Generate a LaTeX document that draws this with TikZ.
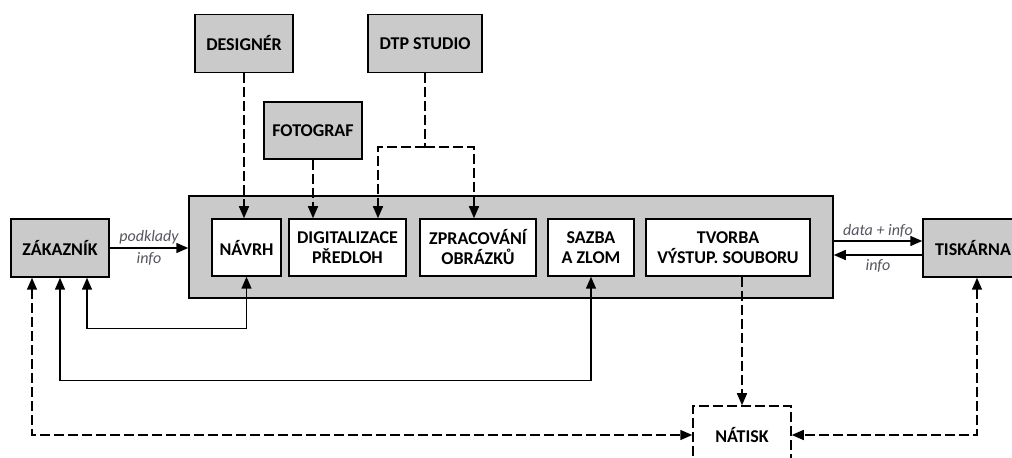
\documentclass[tikz,border=0pt]{standalone}
\usepackage{fontspec}
\setmainfont{Carlito}
\definecolor{BoxGray}{RGB}{202, 202, 202}
\definecolor{NoteGray}{RGB}{85, 85, 95}
\usetikzlibrary{arrows.meta, positioning}

\begin{document}
\begin{tikzpicture}[
    x=0.5pt, y=-0.5pt,
    >={Triangle[length=6pt, width=5pt]},
    every node/.style={font=\fontsize{9}{10}\selectfont\bfseries, align=center, inner sep=0pt},
    role/.style={draw, fill=BoxGray, line width=0.75pt, minimum width=49pt, minimum height=29pt},
    stage/.style={draw, fill=white, line width=0.75pt, minimum height=28.5pt},
    flow/.style={line width=0.75pt},
    link/.style={line width=0.75pt, dash pattern=on 5pt off 2pt},
    note/.style={font=\fontsize{8}{9}\selectfont\itshape, text=NoteGray}
]
\useasboundingbox (0,0) rectangle (1012,458);
% outside parties
\node[role] (designer) at (244,43.5) {DESIGNÉR};
\node[role, minimum width=57pt] (dtp) at (425,43.5) {DTP STUDIO};
\node[role, minimum height=28.5pt] (fotograf) at (313,130.5) {FOTOGRAF};
\node[role] (zakaznik) at (60,248) {ZÁKAZNÍK};
\node[role, minimum width=50pt] (tiskarna) at (973,248) {TISKÁRNA};
\node[role, fill=white, dash pattern=on 5pt off 2pt] (natisk) at (742,435) {NÁTISK};
% studio and its steps
\node[draw, fill=BoxGray, line width=0.75pt, minimum width=322pt, minimum height=51pt] (studio) at (511,247) {};
\node[stage, minimum width=34.5pt] (navrh) at (246.5,247.5) {NÁVRH};
\node[stage, minimum width=58.5pt] (digit) at (347.5,247.5) {DIGITALIZACE\\PŘEDLOH};
\node[stage, minimum width=58pt] (zprac) at (478,247.5) {ZPRACOVÁNÍ\\OBRÁZKŮ};
\node[stage, minimum width=43pt] (sazba) at (591,247.5) {SAZBA\\A ZLOM};
\node[stage, minimum width=82pt] (tvorba) at (728,247.5) {TVORBA\\VÝSTUP. SOUBORU};
% inputs from the top
\draw[link, ->] (designer.south) -- (designer.south |- navrh.north);
\draw[link, ->] (fotograf.south) -- (fotograf.south |- digit.north);
\draw[link] (dtp.south) -- ++(0,74) coordinate (split);
\draw[link, ->] (split) -| ([xshift=15.25pt]digit.north);
\draw[link, ->] (split) -| ([xshift=-2pt]zprac.north);
% customer and printer
\draw[flow, ->] (zakaznik.east) -- (zakaznik.east -| studio.west)
    node[midway, above=1.5pt, note] {podklady} node[midway, below=2pt, note] {info};
\draw[flow, ->] ([yshift=3.5pt]tiskarna.west -| studio.east) -- ([yshift=3.5pt]tiskarna.west)
    node[midway, above=1.5pt, note] {data + info};
\draw[flow, ->] ([yshift=-3.5pt]tiskarna.west) -- ([yshift=-3.5pt]tiskarna.west -| studio.east)
    node[midway, below=2pt, note] {info};
\draw[flow, <->] (navrh.south) -- ++(0,52) -| ([xshift=13.5pt]zakaznik.south);
\draw[flow, <->] (sazba.south) -- ++(0,104) -| (zakaznik.south);
% proof
\draw[link, ->] (natisk.north |- tvorba.south) -- (natisk.north);
\draw[link, <->] ([xshift=-14pt]zakaznik.south) |- (natisk.west);
\draw[link, <->] ([xshift=2pt]tiskarna.south) |- (natisk.east);
\end{tikzpicture}
\end{document}
